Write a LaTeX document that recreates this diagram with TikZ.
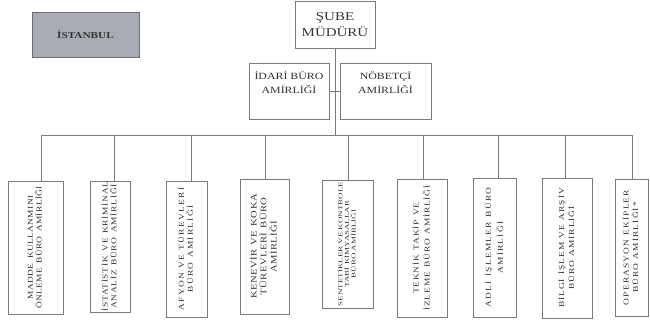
\documentclass[tikz,border=0pt]{standalone}
\usepackage{fontspec}
\setmainfont{Liberation Serif}[FakeStretch=1.25]
\newfontfamily\narrowlabel{Liberation Serif}[FakeStretch=1.55]
\definecolor{linegray}{HTML}{7A7A7A}
\definecolor{textgray}{HTML}{333333}
\definecolor{cityfill}{HTML}{A9ACB4}
\definecolor{citydraw}{HTML}{6E6E6E}
% vertical label with stacked lines
\newcommand{\vlabel}[1]{\rotatebox{90}{\begin{tabular}{@{}c@{}}#1\end{tabular}}}
% letter-spaced text for the bureau boxes: size, line skip, tracking
\newcommand{\tracked}[3]{\fontsize{#1}{#2}\selectfont\addfontfeatures{LetterSpace=#3}\spaceskip=4.5pt\relax}
\begin{document}
\begin{tikzpicture}[x=1pt,y=-1pt,
  line/.style={draw=linegray, line width=0.8pt},
  box/.style={draw=linegray, line width=0.8pt, fill=white, inner sep=0pt,
    align=center, text=textgray},
  caption/.style={align=center, text=textgray, inner sep=0pt},
  unit/.style={box},
]
\useasboundingbox (0,0) rectangle (650,327);
\fill[white] (0,0) rectangle (650,327);

% city tag
\node[box, fill=cityfill, draw=citydraw, minimum width=107pt, minimum height=45pt,
  font=\bfseries\fontsize{9}{10}\selectfont] (city) at (85.5,34.5) {İSTANBUL};

% top levels
\node[box, minimum width=80pt, minimum height=47pt,
  font=\fontsize{12}{16.5}\selectfont] (mgr) at (335,24.5) {ŞUBE\\MÜDÜRÜ};
\node[box, minimum width=80pt, minimum height=56pt] (adm) at (289,91) {};
\node[caption, below=9pt, font=\fontsize{9.5}{14}\selectfont] (admtext) at (adm.north)
  {İDARİ BÜRO\\AMİRLİĞİ};
\node[box, minimum width=91pt, minimum height=56pt] (duty) at (385.5,91) {};
\node[caption, below=9pt, font=\fontsize{9.5}{14}\selectfont] (dutytext) at (duty.north)
  {NÖBETÇİ\\AMİRLİĞİ};

% bureau boxes
\node[unit, minimum width=55pt, minimum height=133pt, font=\tracked{7.5}{8.5}{5}]
  (u1) at (35.5,247.5)
  {\vlabel{MADDE KULLANMINI\\ÖNLEME BÜRO AMİRLİĞİ}};
\node[unit, minimum width=40pt, minimum height=131pt, font=\tracked{7.5}{7.5}{10}]
  (u2) at (110,246.5)
  {\vlabel{İSTATİSTİK VE KRİMİNAL\\ANALİZ BÜRO AMİRLİĞİ}};
\node[unit, minimum width=41pt, minimum height=136pt, font=\tracked{7.5}{9}{17}]
  (u3) at (186.5,249)
  {\vlabel{AFYON VE TÜREVLERİ\\BÜRO AMİRLİĞİ}};
\node[unit, minimum width=49pt, minimum height=135pt, font=\tracked{8.5}{9.5}{5}]
  (u4) at (264.5,246.5)
  {\vlabel{KENEVİR VE KOKA\\TÜREVLERİ BÜRO\\AMİRLİĞİ}};
\node[unit, minimum width=51pt, minimum height=128pt,
  font=\narrowlabel\fontsize{5.8}{6}\selectfont] (u5) at (347.5,244)
  {\vlabel{SENTETİKLER VE KONTROLE\\TABİ KİMYASALLAR\\BÜRO AMİRLİĞİ}};
\node[unit, minimum width=50pt, minimum height=138pt, font=\tracked{7.5}{11}{11}]
  (u6) at (422,248)
  {\vlabel{TEKNİK TAKİP VE\\İZLEME BÜRO AMİRLİĞİ}};
\node[unit, minimum width=43pt, minimum height=139pt, font=\tracked{7.5}{12}{17}]
  (u7) at (494.5,247.5)
  {\vlabel{ADLİ İŞLEMLER BÜRO\\AMİRLİĞİ}};
\node[unit, minimum width=50pt, minimum height=140pt, font=\tracked{7.5}{10}{13}]
  (u8) at (567,248)
  {\vlabel{BİLGİ İŞLEM VE ARŞİV\\BÜRO AMİRLİĞİ}};
\node[unit, minimum width=33pt, minimum height=137pt, font=\tracked{7.5}{9.5}{15}]
  (u9) at (631.5,247.5)
  {\vlabel{OPERASYON EKİPLER\\BÜRO AMİRLİĞİ*}};

% bus taps
\coordinate (d1) at (41,135);
\coordinate (d2) at (114,135);
\coordinate (d3) at (191,135);
\coordinate (d4) at (265,135);
\coordinate (d5) at (348,135);
\coordinate (d6) at (423,135);
\coordinate (d7) at (498,135);
\coordinate (d8) at (565,135);
\coordinate (d9) at (632,135);

% connectors
\draw[line] (mgr.south) -- (mgr.south |- d1);
\draw[line] (adm.east) -- (duty.west);
\draw[line] (d1) -- (d9);
\foreach \i in {1,...,9}{
  \draw[line] (d\i) -- (d\i |- u\i.north);
}
\end{tikzpicture}
\end{document}
